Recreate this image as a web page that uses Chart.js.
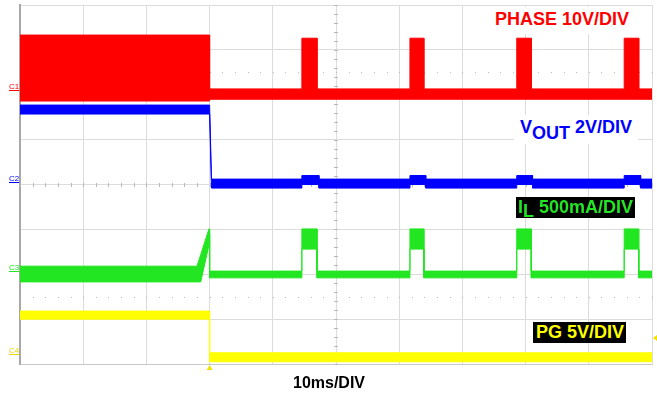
<!DOCTYPE html>
<html>
<head>
<meta charset="utf-8">
<script src="https://cdn.jsdelivr.net/npm/chart.js@4"></script>
<style>
  body { margin: 0; background: #fff; }
  #wrap { position: relative; width: 657px; height: 396px; font-family: "Liberation Sans", Arial, sans-serif; }
  canvas { position: absolute; left: 0; top: 0; }
  .lbl { position: absolute; font-weight: bold; font-size: 18px; line-height: 21px; white-space: nowrap; }
  .lbl sub { font-size: 18px; vertical-align: -6px; line-height: 0; }
  .mk { position: absolute; font-size: 8px; line-height: 9px; text-decoration: underline; }
</style>
</head>
<body>
<div id="wrap">
  <canvas id="scope" width="657" height="396"></canvas>
  <div class="lbl" style="left:486px; top:7px; padding:2px 9px 4px 9px; background:#fff; color:#ff0000;">PHASE 10V/DIV</div>
  <div class="lbl" style="left:514px; top:115px; padding:2px 6px 6px 6px; background:#fff; color:#0000ff;">V<sub>OUT</sub> 2V/DIV</div>
  <div class="lbl" style="left:516px; top:197px; width:119px; height:21px; padding:0 0 0 2px; box-sizing:border-box; background:#000; color:#22e622; line-height:20px;">I<sub style="font-size:18px; vertical-align:-4px;">L</sub> 500mA/DIV</div>
  <div class="lbl" style="left:533px; top:322px; width:93px; height:21px; padding:0 0 0 3px; box-sizing:border-box; background:#000; color:#ffff00; line-height:21px;">PG 5V/DIV</div>
  <div class="lbl" style="left:293px; top:372px; font-size:16px; color:#000;">10ms/DIV</div>
  <div class="mk" style="left:9px; top:82px; color:#ff0000;">C1</div>
  <div class="mk" style="left:9px; top:174px; color:#0000ff;">C2</div>
  <div class="mk" style="left:9px; top:263px; color:#22e622;">C3</div>
  <div class="mk" style="left:9px; top:346px; color:#e6d600;">C4</div>
</div>
<script>
// time in divisions (10ms/DIV), amplitude in screen divisions (0 = bottom, 8 = top)
const phaseT  = [0, 3.0, 3.0, 4.46, 4.46, 4.70, 4.70, 6.17, 6.17, 6.39, 6.39, 7.86, 7.86, 8.09, 8.09, 9.56, 9.56, 9.79, 9.79, 10];
const phaseHi = [7.33, 7.33, 6.13, 6.13, 7.26, 7.26, 6.13, 6.13, 7.26, 7.26, 6.13, 6.13, 7.26, 7.26, 6.13, 6.13, 7.26, 7.26, 6.13, 6.13];
const phaseLo = [5.86, 5.86, 5.90, 5.90, 5.90, 5.90, 5.90, 5.90, 5.90, 5.90, 5.90, 5.90, 5.90, 5.90, 5.90, 5.90, 5.90, 5.90, 5.90, 5.90];

const voutT  = [0, 3.0, 3.03, 4.46, 4.46, 4.73, 4.73, 6.17, 6.17, 6.42, 6.42, 7.86, 7.86, 8.11, 8.11, 9.56, 9.56, 9.82, 9.82, 10];
const voutHi = [5.77, 5.77, 4.12, 4.12, 4.20, 4.20, 4.12, 4.12, 4.20, 4.20, 4.12, 4.12, 4.20, 4.20, 4.12, 4.12, 4.20, 4.20, 4.12, 4.12];
const voutLo = [5.57, 5.57, 3.92, 3.92, 4.00, 4.00, 3.92, 3.92, 4.00, 4.00, 3.92, 3.92, 4.00, 4.00, 3.92, 3.92, 4.00, 4.00, 3.92, 3.92];

const ilT  = [0, 2.80, 2.86, 2.99, 3.0, 3.0, 4.46, 4.46, 4.70, 4.70, 6.17, 6.17, 6.39, 6.39, 7.86, 7.86, 8.09, 8.09, 9.56, 9.56, 9.79, 9.79, 10];
const ilHi = [2.18, 2.18, 2.44, 3.01, 3.01, 2.07, 2.07, 3.01, 3.01, 2.07, 2.07, 3.01, 3.01, 2.07, 2.07, 3.01, 3.01, 2.07, 2.07, 3.01, 3.01, 2.07, 2.07];
const ilLo = [1.83, 1.83, 1.83, 2.65, 2.90, 1.92, 1.92, 2.56, 2.56, 1.92, 1.92, 2.56, 2.56, 1.92, 1.92, 2.56, 2.56, 1.92, 1.92, 2.56, 2.56, 1.92, 1.92];

const pgT  = [0, 3.0, 3.0, 10];
const pgHi = [1.18, 1.18, 0.25, 0.25];
const pgLo = [1.00, 1.00, 0.05, 0.05];

const red = '#ff0000', blue = '#0000ff', green = '#22e622', yellow = '#ffff00';

function band(t, hi, lo, color) {
  const base = { borderColor: color, backgroundColor: color, borderWidth: 1, pointRadius: 0, tension: 0 };
  return [
    Object.assign({ data: t.map((x, i) => ({ x: x, y: hi[i] })), fill: '+1' }, base),
    Object.assign({ data: t.map((x, i) => ({ x: x, y: lo[i] })), fill: false }, base)
  ];
}

// dotted center lines, minor ticks and trigger markers
const scopeExtras = {
  id: 'scopeExtras',
  beforeDatasetsDraw(chart) {
    const { ctx, scales: { x, y } } = chart;
    ctx.save();
    ctx.fillStyle = '#b8b8b8';
    [1.5, 4, 6.5].forEach(v => {
      const py = Math.round(y.getPixelForValue(v));
      for (let d = 0; d <= 50; d++) {
        const px = Math.round(x.getPixelForValue(d * 0.2));
        ctx.fillRect(px, v === 4 ? py - 2 : py, 1, v === 4 ? 4 : 1);
      }
    });
    const cx = Math.round(x.getPixelForValue(5));
    for (let d = 0; d <= 40; d++) {
      const py = Math.round(y.getPixelForValue(d * 0.2));
      ctx.fillRect(cx - 2, py, 4, 1);
    }
    ctx.restore();
  },
  afterDraw(chart) {
    const { ctx, chartArea: a, scales: { x, y } } = chart;
    ctx.save();
    ctx.fillStyle = '#f2e200';
    const tx = x.getPixelForValue(3.0);
    ctx.beginPath();
    ctx.moveTo(tx, a.bottom + 1);
    ctx.lineTo(tx - 3, a.bottom + 6);
    ctx.lineTo(tx + 3, a.bottom + 6);
    ctx.closePath();
    ctx.fill();
    const ty = y.getPixelForValue(0.58);
    ctx.beginPath();
    ctx.moveTo(a.right + 1, ty);
    ctx.lineTo(a.right + 5, ty - 3);
    ctx.lineTo(a.right + 5, ty + 3);
    ctx.closePath();
    ctx.fill();
    ctx.restore();
  }
};

new Chart(document.getElementById('scope'), {
  type: 'line',
  data: {
    datasets: [].concat(
      band(phaseT, phaseHi, phaseLo, red),
      band(voutT, voutHi, voutLo, blue),
      band(ilT, ilHi, ilLo, green),
      band(pgT, pgHi, pgLo, yellow)
    )
  },
  options: {
    responsive: false,
    animation: false,
    events: [],
    layout: { padding: { left: 20, top: 5, right: 5, bottom: 32 } },
    plugins: { legend: { display: false }, tooltip: { enabled: false } },
    scales: {
      x: {
        type: 'linear', min: 0, max: 10,
        ticks: { display: false, stepSize: 1 },
        grid: { color: '#dcdcdc', drawTicks: false },
        border: { color: '#c8c8c8', width: 1 }
      },
      y: {
        min: 0, max: 8,
        ticks: { display: false, stepSize: 1 },
        grid: { color: '#dcdcdc', drawTicks: false },
        border: { color: '#a8a8a8', width: 2 }
      }
    }
  },
  plugins: [scopeExtras]
});
</script>
</body>
</html>
